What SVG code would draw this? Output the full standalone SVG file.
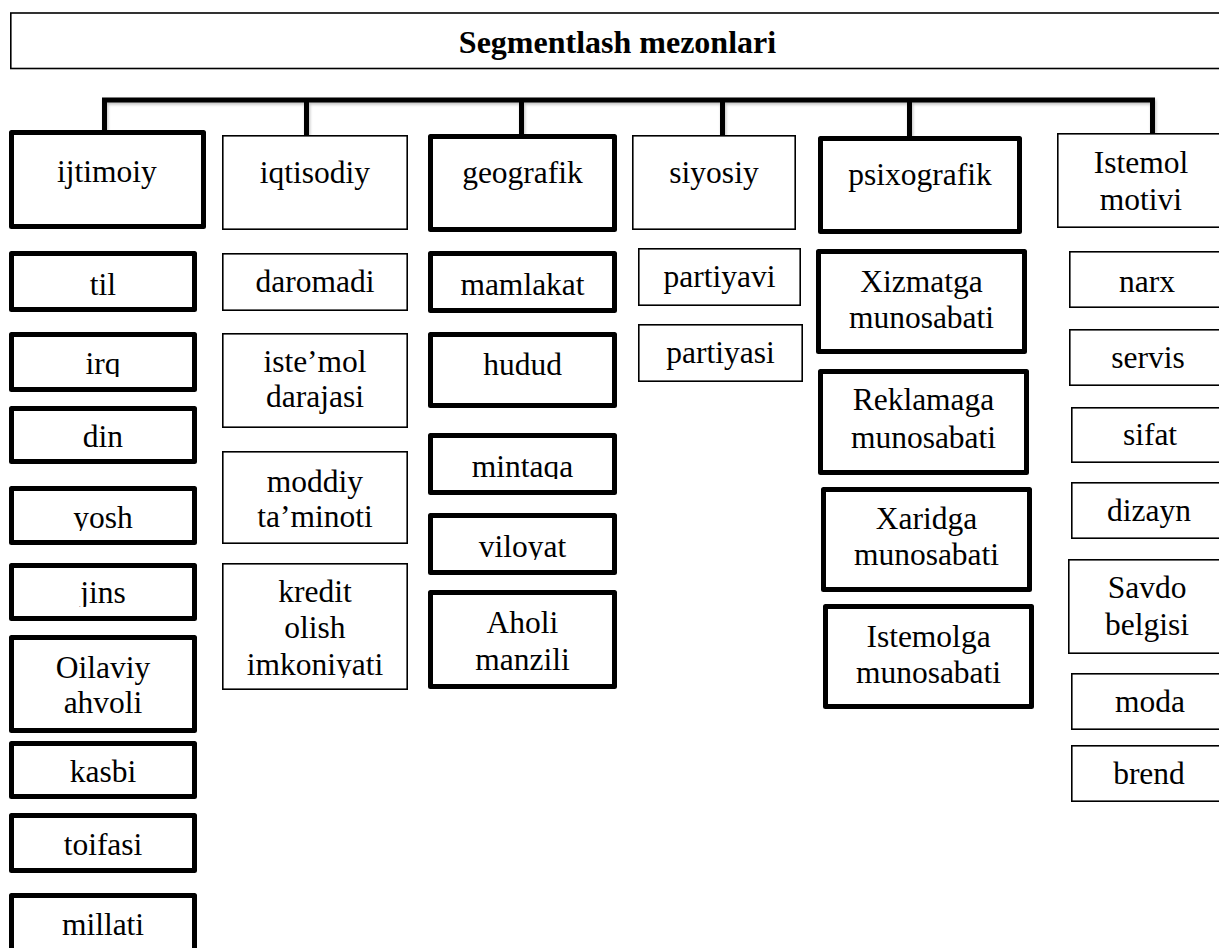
<svg xmlns="http://www.w3.org/2000/svg" width="1219" height="948" viewBox="0 0 1219 948">
  <style>
    text { font-family: "Liberation Serif", "Times New Roman", serif; font-size: 31.5px; fill: #000; text-anchor: middle; }
    .title { font-size: 32px; font-weight: bold; }
    .thin { fill: #fff; stroke: #000; stroke-width: 1.6; }
    .thick { fill: #fff; stroke: #000; stroke-width: 5; stroke-linejoin: round; }
    .conn { fill: none; stroke: #000; stroke-width: 5; stroke-linejoin: miter; }
  </style>
  <defs>
    <filter id="soft" x="-5%" y="-20%" width="110%" height="160%">
      <feDropShadow dx="1" dy="2" stdDeviation="1.5" flood-color="#000" flood-opacity="0.25"/>
    </filter>
    <!-- text boxes cut off descenders that run past their inner margin -->
    <clipPath id="clip-irq"><rect x="0" y="330" width="210" height="47"/></clipPath>
    <clipPath id="clip-yosh"><rect x="0" y="484" width="210" height="47"/></clipPath>
    <clipPath id="clip-jins"><rect x="0" y="561" width="210" height="46"/></clipPath>
    <clipPath id="clip-imk"><rect x="220" y="560" width="200" height="118"/></clipPath>
    <clipPath id="clip-mintaqa"><rect x="425" y="430" width="200" height="49"/></clipPath>
    <clipPath id="clip-viloyat"><rect x="425" y="510" width="200" height="50"/></clipPath>
  </defs>

  <rect width="1219" height="948" fill="#fff"/>

  <!-- heading -->
  <g id="title">
    <rect class="thin" x="10.8" y="13" width="1216" height="55.5"/>
    <text class="title" x="617.5" y="53">Segmentlash mezonlari</text>
  </g>

  <!-- branch connectors -->
  <g id="connectors" filter="url(#soft)">
    <path class="conn" d="M104.5 131 V100 H1152.5 V134"/>
    <path class="conn" d="M306.5 100 V135"/>
    <path class="conn" d="M521.5 100 V134"/>
    <path class="conn" d="M722.5 100 V135"/>
    <path class="conn" d="M909.5 100 V136"/>
  </g>

  <!-- ijtimoiy -->
  <g id="ijtimoiy">
    <rect class="thick" x="11.5" y="132.5" width="192" height="94"/>
    <text x="107" y="182">ijtimoiy</text>
  </g>
  <g id="til">
    <rect class="thick" x="11.5" y="253.5" width="183" height="56"/>
    <text x="103" y="295">til</text>
  </g>
  <g id="irq">
    <rect class="thick" x="11.5" y="334.5" width="183" height="55"/>
    <text x="103" y="374" clip-path="url(#clip-irq)">irq</text>
  </g>
  <g id="din">
    <rect class="thick" x="11.5" y="408.5" width="183" height="53"/>
    <text x="103" y="447">din</text>
  </g>
  <g id="yosh">
    <rect class="thick" x="11.5" y="488.5" width="183" height="54"/>
    <text x="103" y="528" clip-path="url(#clip-yosh)">yosh</text>
  </g>
  <g id="jins">
    <rect class="thick" x="11.5" y="565.5" width="183" height="53"/>
    <text x="103" y="603" clip-path="url(#clip-jins)">jins</text>
  </g>
  <g id="oilaviy-ahvoli">
    <rect class="thick" x="11.5" y="637.5" width="183" height="93"/>
    <text x="103" y="678">Oilaviy</text>
    <text x="103" y="713">ahvoli</text>
  </g>
  <g id="kasbi">
    <rect class="thick" x="11.5" y="743.5" width="183" height="53"/>
    <text x="103" y="782">kasbi</text>
  </g>
  <g id="toifasi">
    <rect class="thick" x="11.5" y="815.5" width="183" height="55"/>
    <text x="103" y="855">toifasi</text>
  </g>
  <g id="millati">
    <rect class="thick" x="11.5" y="895.5" width="183" height="70"/>
    <text x="103" y="935">millati</text>
  </g>

  <!-- iqtisodiy -->
  <g id="iqtisodiy">
    <rect class="thin" x="222.8" y="135.8" width="184.4" height="93.4"/>
    <text x="315" y="183">iqtisodiy</text>
  </g>
  <g id="daromadi">
    <rect class="thin" x="222.8" y="253.8" width="184.4" height="56.4"/>
    <text x="315" y="292">daromadi</text>
  </g>
  <g id="istemol-darajasi">
    <rect class="thin" x="222.8" y="333.8" width="184.4" height="93.4"/>
    <text x="315" y="372">iste’mol</text>
    <text x="315" y="407">darajasi</text>
  </g>
  <g id="moddiy-taminoti">
    <rect class="thin" x="222.8" y="451.8" width="184.4" height="91.4"/>
    <text x="315" y="492">moddiy</text>
    <text x="315" y="527">ta’minoti</text>
  </g>
  <g id="kredit">
    <rect class="thin" x="222.8" y="563.8" width="184.4" height="125.4"/>
    <text x="315" y="602">kredit</text>
    <text x="315" y="638">olish</text>
    <text x="315" y="675" clip-path="url(#clip-imk)">imkoniyati</text>
  </g>

  <!-- geografik -->
  <g id="geografik">
    <rect class="thick" x="430.5" y="136.5" width="184" height="93"/>
    <text x="522.5" y="183">geografik</text>
  </g>
  <g id="mamlakat">
    <rect class="thick" x="430.5" y="253.5" width="184" height="57"/>
    <text x="522.5" y="295">mamlakat</text>
  </g>
  <g id="hudud">
    <rect class="thick" x="430.5" y="334.5" width="184" height="71"/>
    <text x="522.5" y="375">hudud</text>
  </g>
  <g id="mintaqa">
    <rect class="thick" x="430.5" y="435.5" width="184" height="57"/>
    <text x="522.5" y="477" clip-path="url(#clip-mintaqa)">mintaqa</text>
  </g>
  <g id="viloyat">
    <rect class="thick" x="430.5" y="515.5" width="184" height="57"/>
    <text x="522.5" y="557" clip-path="url(#clip-viloyat)">viloyat</text>
  </g>
  <g id="aholi-manzili">
    <rect class="thick" x="430.5" y="592.5" width="184" height="94"/>
    <text x="522.5" y="633">Aholi</text>
    <text x="522.5" y="670">manzili</text>
  </g>

  <!-- siyosiy -->
  <g id="siyosiy">
    <rect class="thin" x="632.8" y="135.8" width="162.4" height="93.4"/>
    <text x="714" y="183">siyosiy</text>
  </g>
  <g id="partiyavi">
    <rect class="thin" x="638.8" y="248.8" width="161.4" height="56.4"/>
    <text x="719.5" y="287">partiyavi</text>
  </g>
  <g id="partiyasi">
    <rect class="thin" x="638.8" y="324.8" width="163.4" height="56.4"/>
    <text x="720.5" y="363">partiyasi</text>
  </g>

  <!-- psixografik -->
  <g id="psixografik">
    <rect class="thick" x="820.5" y="138.5" width="199" height="93"/>
    <text x="920" y="185">psixografik</text>
  </g>
  <g id="xizmatga">
    <rect class="thick" x="818.5" y="251.5" width="206" height="100"/>
    <text x="921.5" y="292">Xizmatga</text>
    <text x="921.5" y="328">munosabati</text>
  </g>
  <g id="reklamaga">
    <rect class="thick" x="820.5" y="371.5" width="206" height="101"/>
    <text x="923.5" y="410">Reklamaga</text>
    <text x="923.5" y="448">munosabati</text>
  </g>
  <g id="xaridga">
    <rect class="thick" x="823.5" y="489.5" width="206" height="100"/>
    <text x="926.5" y="529">Xaridga</text>
    <text x="926.5" y="565">munosabati</text>
  </g>
  <g id="istemolga">
    <rect class="thick" x="825.5" y="606.5" width="206" height="100"/>
    <text x="928.5" y="647">Istemolga</text>
    <text x="928.5" y="683">munosabati</text>
  </g>

  <!-- Istemol motivi -->
  <g id="istemol-motivi">
    <rect class="thin" x="1057.8" y="133.8" width="168" height="93.4"/>
    <text x="1141" y="173">Istemol</text>
    <text x="1141" y="210">motivi</text>
  </g>
  <g id="narx">
    <rect class="thin" x="1069.8" y="251.8" width="158" height="55.4"/>
    <text x="1147" y="292">narx</text>
  </g>
  <g id="servis">
    <rect class="thin" x="1069.8" y="329.8" width="158" height="55.4"/>
    <text x="1148" y="368">servis</text>
  </g>
  <g id="sifat">
    <rect class="thin" x="1071.8" y="407.8" width="156" height="54.4"/>
    <text x="1150" y="445">sifat</text>
  </g>
  <g id="dizayn">
    <rect class="thin" x="1071.8" y="482.8" width="156" height="55.4"/>
    <text x="1149" y="521">dizayn</text>
  </g>
  <g id="savdo-belgisi">
    <rect class="thin" x="1068.8" y="559.8" width="159" height="93.4"/>
    <text x="1147" y="598">Savdo</text>
    <text x="1147" y="635">belgisi</text>
  </g>
  <g id="moda">
    <rect class="thin" x="1071.8" y="673.8" width="156" height="55.4"/>
    <text x="1150" y="712">moda</text>
  </g>
  <g id="brend">
    <rect class="thin" x="1071.8" y="745.8" width="156" height="55.4"/>
    <text x="1149" y="784">brend</text>
  </g>
</svg>
